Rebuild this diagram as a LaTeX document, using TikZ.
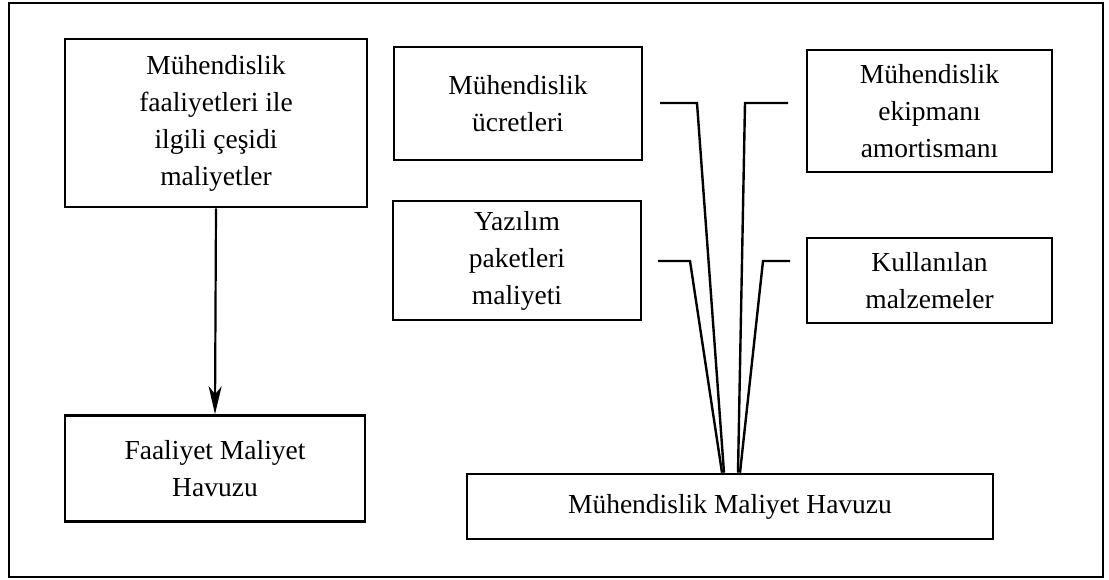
\documentclass[tikz,border=0pt]{standalone}
\usepackage{fontspec}
\setmainfont{Liberation Serif}
\usetikzlibrary{arrows.meta,calc}

\tikzset{
  costbox/.style={draw=black, line width=2.6pt, fill=white, align=center,
    inner sep=0pt, font=\fontsize{27.5}{37}\selectfont},
  feed/.style={draw=black, line width=2.4pt, line join=miter},
  flow/.style={draw=black, line width=2.2pt, -{Stealth[length=28pt,width=13pt,inset=8pt]}}
}

\begin{document}
\begin{tikzpicture}[x=1pt,y=-1pt]
  \useasboundingbox (0,0) rectangle (1109,580);
  \fill[white] (0,0) rectangle (1109,580);

  % outer frame
  \draw[line width=2.6pt] (9,3) rectangle (1103,577);

  % activity side
  \node[costbox, minimum width=302pt, minimum height=168pt] (act) at (216,123)
    {Mühendislik\\faaliyetleri ile\\ilgili çeşidi\\maliyetler};
  \node[costbox, minimum width=300pt, minimum height=106pt] (fmh) at (215,468.5)
    {Faaliyet Maliyet\\Havuzu};
  \draw[flow] (act.south) -- (fmh.north);

  % engineering cost items
  \node[costbox, minimum width=248pt, minimum height=113pt] (ucr) at (518,103.5)
    {Mühendislik\\ücretleri};
  \node[costbox, minimum width=248pt, minimum height=119pt] (yaz) at (517,260.5)
    {Yazılım\\paketleri\\maliyeti};
  \node[costbox, minimum width=245pt, minimum height=122pt] (ekp) at (929.5,111)
    {Mühendislik\\ekipmanı\\amortismanı};
  \node[costbox, minimum width=245pt, minimum height=85pt] (kul) at (929.5,280.5)
    {Kullanılan\\malzemeler};

  % engineering cost pool
  \node[costbox, minimum width=526pt, minimum height=65pt] (pool) at (730,506.5)
    {Mühendislik Maliyet Havuzu};

  % funnel of feeds into the pool
  \coordinate (ucrA) at (660,103);
  \coordinate (ucrB) at (697,103);
  \coordinate (yazA) at (658,261);
  \coordinate (yazB) at (690,261);
  \coordinate (ekpA) at (788,103);
  \coordinate (ekpB) at (745,103);
  \coordinate (kulA) at (790,261);
  \coordinate (kulB) at (763,261);

  \draw[feed] (ucrA) -- (ucrB) -- ($(pool.north)+(-6,0)$);
  \draw[feed] (yazA) -- (yazB) -- ($(pool.north)+(-8,0)$);
  \draw[feed] (ekpA) -- (ekpB) -- ($(pool.north)+(8,0)$);
  \draw[feed] (kulA) -- (kulB) -- ($(pool.north)+(10,0)$);
\end{tikzpicture}
\end{document}
